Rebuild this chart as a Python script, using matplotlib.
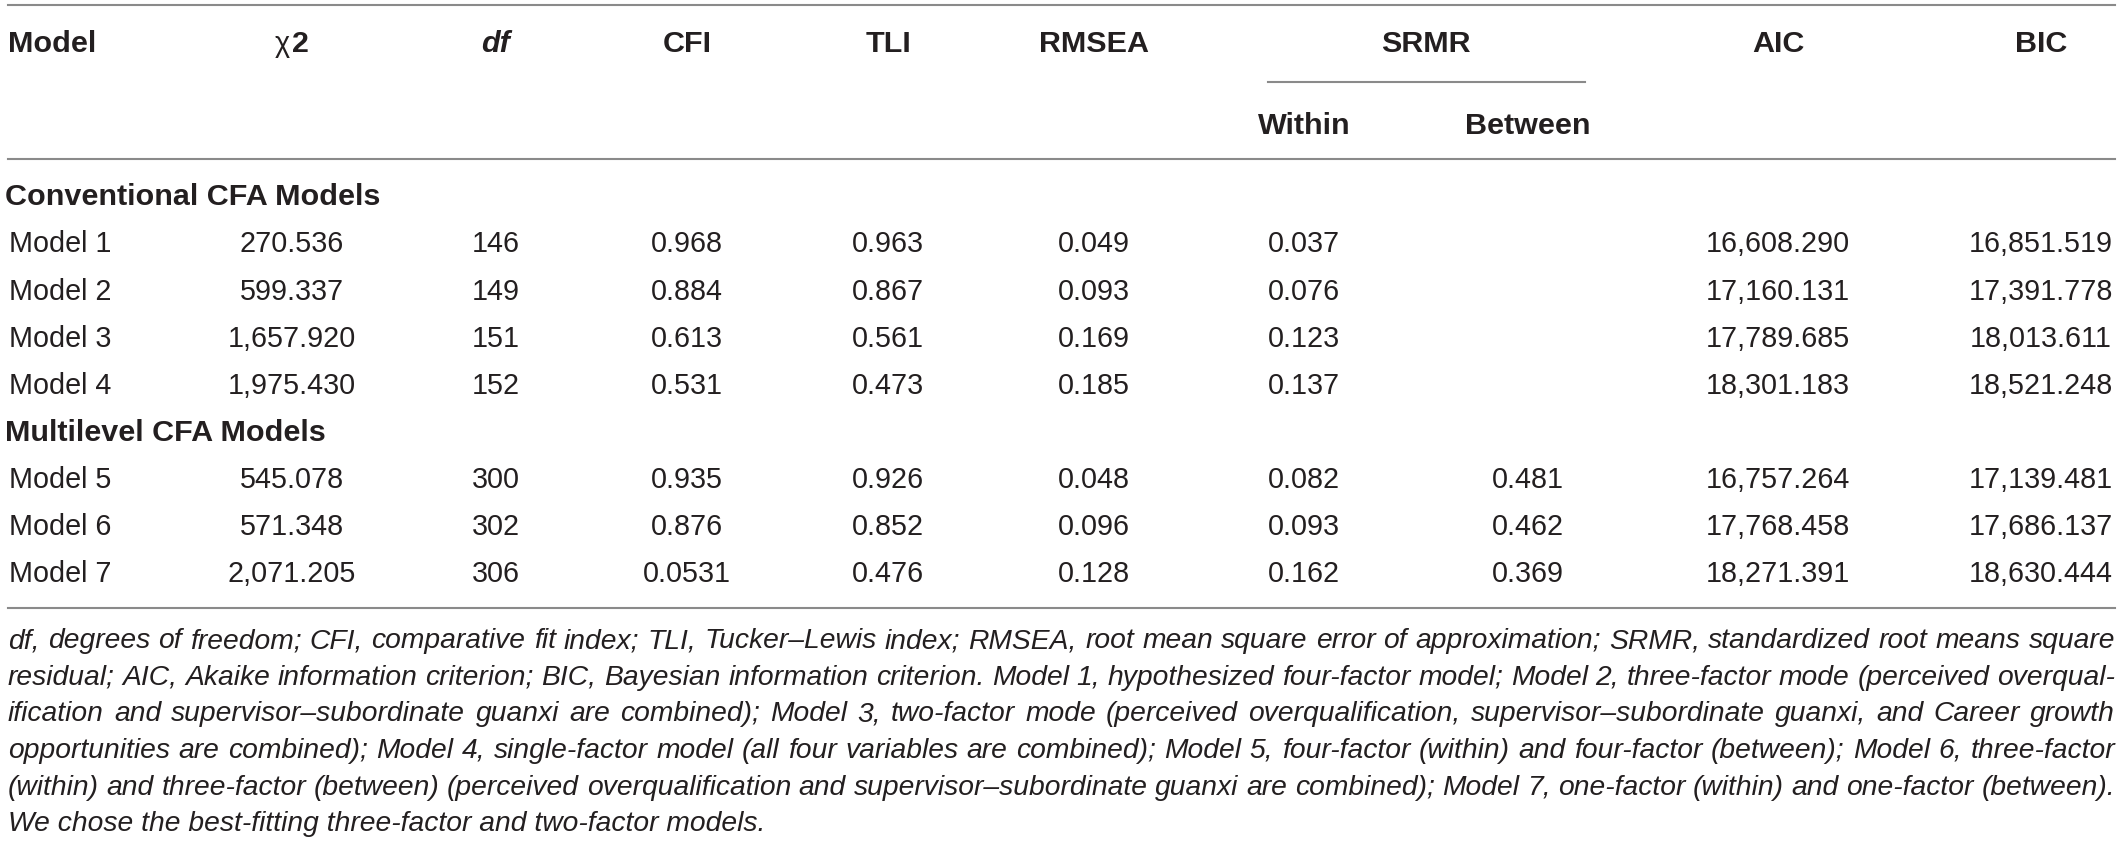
import matplotlib
matplotlib.use('Agg')
import matplotlib.pyplot as plt
from matplotlib.lines import Line2D

W, H, DPI = 2121, 844, 100
FONT = ['Liberation Sans Narrow', 'Liberation Sans', 'DejaVu Sans']
INK = '#231f20'
RULE = '#8a8a8a'

# ---------- table content ----------
groups = ['Conventional CFA Models', 'Multilevel CFA Models']
group_sizes = [4, 3]
models = ['Model 1', 'Model 2', 'Model 3', 'Model 4', 'Model 5', 'Model 6', 'Model 7']
chi2 = ['270.536', '599.337', '1,657.920', '1,975.430', '545.078', '571.348', '2,071.205']
dfree = ['146', '149', '151', '152', '300', '302', '306']
cfi = ['0.968', '0.884', '0.613', '0.531', '0.935', '0.876', '0.0531']
tli = ['0.963', '0.867', '0.561', '0.473', '0.926', '0.852', '0.476']
rmsea = ['0.049', '0.093', '0.169', '0.185', '0.048', '0.096', '0.128']
srmr_within = ['0.037', '0.076', '0.123', '0.137', '0.082', '0.093', '0.162']
srmr_between = ['', '', '', '', '0.481', '0.462', '0.369']
aic = ['16,608.290', '17,160.131', '17,789.685', '18,301.183', '16,757.264', '17,768.458', '18,271.391']
bic = ['16,851.519', '17,391.778', '18,013.611', '18,521.248', '17,139.481', '17,686.137', '18,630.444']

footnote = [
    "df, degrees of freedom; CFI, comparative fit index; TLI, Tucker\u2013Lewis index; RMSEA, root mean square error of approximation; SRMR, standardized root means square",
    "residual; AIC, Akaike information criterion; BIC, Bayesian information criterion. Model 1, hypothesized four-factor model; Model 2, three-factor mode (perceived overqual-",
    "ification and supervisor\u2013subordinate guanxi are combined); Model 3, two-factor mode (perceived overqualification, supervisor\u2013subordinate guanxi, and Career growth",
    "opportunities are combined); Model 4, single-factor model (all four variables are combined); Model 5, four-factor (within) and four-factor (between); Model 6, three-factor",
    "(within) and three-factor (between) (perceived overqualification and supervisor\u2013subordinate guanxi are combined); Model 7, one-factor (within) and one-factor (between).",
    "We chose the best-fitting three-factor and two-factor models.",
]

# ---------- layout (pixels) ----------
LEFT, RIGHT = 8, 2115
col_x = [292, 496, 687, 888, 1094, 1304, 1528, 1778, 2041]
cols = [chi2, dfree, cfi, tli, rmsea, srmr_within, srmr_between, aic, bic]
y_head, y_sub, y_first, row_h = 42, 124, 195, 47.1
y_foot, foot_h = 638, 36.6

fig = plt.figure(figsize=(W / DPI, H / DPI), dpi=DPI)
ax = fig.add_axes([0, 0, 1, 1])
ax.set_xlim(0, W)
ax.set_ylim(H, 0)
ax.axis('off')
renderer = fig.canvas.get_renderer()


def width_of(s, size, **kw):
    t = ax.text(0, 0, s, fontsize=size, family=FONT, **kw)
    w = t.get_window_extent(renderer).width
    t.remove()
    return w


def fit_size(s, target, **kw):
    return 20 * target / width_of(s, 20, **kw)


body = fit_size('Model 1', 102)
bold = fit_size('Model', 88, weight='bold')
ital = min(fit_size(l, RIGHT - LEFT, style='italic') for l in footnote[:-1])
cap = 0.36 * body * DPI / 72  # half cap height, px


def put(x, y, s, ha='center', size=None, **kw):
    ax.text(x, y + cap, s, ha=ha, va='baseline', fontsize=size or body,
            family=FONT, color=INK, **kw)


def rule(y, x0=LEFT, x1=RIGHT):
    ax.add_line(Line2D([x0, x1], [y, y], color=RULE, lw=1.5))


# rules
rule(5)
rule(159)
rule(608)
rule(82, 1268, 1585)

# header
put(LEFT, y_head, 'Model', ha='left', size=bold, weight='bold')
wc = width_of('\u03c7', body)
w2 = width_of('2', bold, weight='bold')
x0 = col_x[0] - (wc + w2 + 2) / 2
put(x0, y_head, '\u03c7', ha='left')
put(x0 + wc + 2, y_head, '2', ha='left', size=bold, weight='bold')
put(col_x[1], y_head, 'df', size=bold, style='italic', weight='bold')
for x, s in zip([col_x[2], col_x[3], col_x[4], 1426, col_x[7], col_x[8]],
                ['CFI', 'TLI', 'RMSEA', 'SRMR', 'AIC', 'BIC']):
    put(x, y_head, s, size=bold, weight='bold')
put(col_x[5], y_sub, 'Within', size=bold, weight='bold')
put(col_x[6], y_sub, 'Between', size=bold, weight='bold')

# body rows
row = 0
m = 0
for g, n in zip(groups, group_sizes):
    y = y_first + row * row_h
    put(5, y, g, ha='left', size=bold, weight='bold')
    row += 1
    for _ in range(n):
        y = y_first + row * row_h
        put(LEFT + 1, y, models[m], ha='left')
        for x, c in zip(col_x, cols):
            if c[m]:
                put(x, y, c[m])
        row += 1
        m += 1

# footnote, justified
for i, line in enumerate(footnote):
    y = y_foot + i * foot_h + cap * ital / body
    words = line.split(' ')
    if i == len(footnote) - 1:
        ax.text(LEFT, y, line, fontsize=ital, family=FONT, style='italic',
                color=INK, va='baseline')
        continue
    ws = [width_of(w_, ital, style='italic') for w_ in words]
    gap = (RIGHT - LEFT - sum(ws)) / (len(words) - 1)
    x = LEFT
    for w_, wd in zip(words, ws):
        ax.text(x, y, w_, fontsize=ital, family=FONT, style='italic',
                color=INK, va='baseline')
        x += wd + gap

fig.savefig('out.png', dpi=DPI)
